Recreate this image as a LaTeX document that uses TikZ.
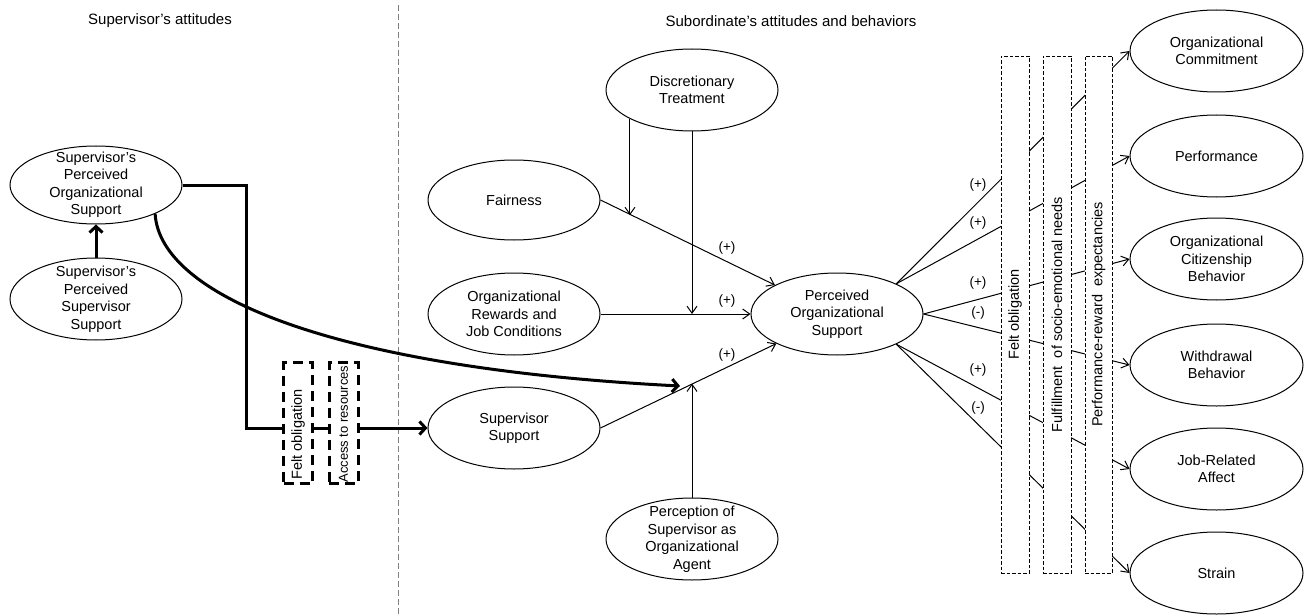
\documentclass[tikz,border=0pt]{standalone}
\usepackage{fontspec}
\setmainfont{Liberation Sans}
\usetikzlibrary{shapes.geometric,arrows.meta,calc}

\begin{document}
\begin{tikzpicture}[x=1pt,y=-1pt,
  every node/.style={font=\fontsize{14.5}{17.5}\selectfont},
  txt/.style={align=center,inner sep=0pt},
  construct/.style={draw,ellipse,line width=1pt,fill=white,inner sep=0pt,
    minimum width=172pt,minimum height=82pt},
  head/.style={font=\fontsize{15}{18}\selectfont,inner sep=0pt},
  sign/.style={font=\fontsize{13.5}{16}\selectfont,inner sep=0pt},
  link/.style={line width=1pt,-{Straight Barb[length=7pt,width=10pt]}},
  heavylink/.style={line width=3pt},
  heavyarrow/.style={line width=3pt,-{Straight Barb[length=6pt,width=13pt]}},
  divider/.style={draw=black!50,line width=0.8pt,dash pattern=on 6pt off 3pt},
  mediator/.style={draw,line width=0.8pt,dash pattern=on 3.5pt off 2pt,fill=white,
    inner sep=0pt,minimum height=517pt},
  channel/.style={draw,line width=3pt,dash pattern=on 10pt off 6pt,
    inner sep=0pt,minimum width=29pt,minimum height=121pt},
  rot/.style={rotate=90,inner sep=0pt}
]
\fill[white] (0,0) rectangle (1306,615);
\useasboundingbox (0,0) rectangle (1306,615);

% column headings and separator
\node[head] (hsup) at (160,21) {Supervisor’s attitudes};
\node[head] (hsub) at (791,21) {Subordinate’s attitudes and behaviors};
\coordinate (divtop) at (398,5);
\coordinate (divbot) at (398,615);
\draw[divider] (divtop) -- (divbot);

% supervisor side
\node[construct,minimum height=78pt,label={[txt]center:{Supervisor’s\\Perceived\\Organizational\\Support}}] (spos) at (96,185) {};
\node[construct,label={[txt]center:{Supervisor’s\\Perceived\\Supervisor\\Support}}] (spss) at (96,299) {};

% subordinate side: antecedents
\node[construct,label={[txt]center:{Discretionary\\Treatment}}] (dt) at (692,90) {};
\node[construct,minimum height=80pt,label={[txt]center:{Fairness}}] (fair) at (514,200) {};
\node[construct,label={[txt]center:{Organizational\\Rewards and\\Job Conditions}}] (rew) at (514,314) {};
\node[construct,label={[txt]center:{Supervisor\\Support}}] (sup) at (514,428) {};
\node[construct,label={[txt]center:{Perception of\\Supervisor as\\Organizational\\Agent}}] (agent) at (692,539) {};
\node[construct,label={[txt]center:{Perceived\\Organizational\\Support}}] (pos) at (837,314) {};

% outcomes
\node[construct,minimum width=173pt,label={[txt]center:{Organizational\\Commitment}}] (oc) at (1216.5,51) {};
\node[construct,minimum width=173pt,label={[txt]center:{Performance}}] (perf) at (1216.5,156) {};
\node[construct,minimum width=173pt,label={[txt]center:{Organizational\\Citizenship\\Behavior}}] (ocb) at (1216.5,259) {};
\node[construct,minimum width=173pt,label={[txt]center:{Withdrawal\\Behavior}}] (wb) at (1216.5,365) {};
\node[construct,minimum width=173pt,label={[txt]center:{Job-Related\\Affect}}] (jr) at (1216.5,469) {};
\node[construct,minimum width=173pt,label={[txt]center:{Strain}}] (strain) at (1216.5,573) {};

% antecedents of perceived organizational support
\draw[link] (fair.east) -- (pos.155);
\draw[link] (rew.east) -- (pos.west);
\draw[link] (sup.east) -- (pos.206);
\coordinate (m1) at ($(fair.east)!0.177!(pos.155)$);
\coordinate (m3) at ($(sup.east)!0.526!(pos.206)$);
\draw[link] (dt.205) -- (dt.205 |- m1);
\draw[link] (dt.south) -- (dt.south |- rew.east);
\draw[link] (agent.north) -- (agent.north |- m3);

\node[sign] (p1) at (727,248) {(+)};
\node[sign] (p2) at (727,301) {(+)};
\node[sign] (p3) at (727,355) {(+)};

% consequences, running behind the mediator boxes
\draw[link] (pos.27) -- (oc.west);
\draw[link] (pos.27) -- (perf.west);
\draw[link] (pos.east) -- (ocb.west);
\draw[link] (pos.east) -- (wb.west);
\draw[link] (pos.333) -- (jr.west);
\draw[link] (pos.333) -- (strain.west);

\node[mediator,minimum width=28pt,label={[rot]center:{Felt obligation}}] (mfo) at (1015,314.5) {};
\node[mediator,minimum width=28pt,label={[rot]center:{Fulfillment~ of socio-emotional needs}}] (mfs) at (1057,314.5) {};
\node[mediator,minimum width=27pt,label={[rot]center:{Performance-reward~ expectancies}}] (mpr) at (1098.5,314.5) {};

\node[sign] (q1) at (978,185) {(+)};
\node[sign] (q2) at (978,223) {(+)};
\node[sign] (q3) at (978,283) {(+)};
\node[sign] (q4) at (978,313) {(-)};
\node[sign] (q5) at (978,370) {(+)};
\node[sign] (q6) at (978,408) {(-)};

% supervisor to subordinate links
\draw[heavyarrow] (spss.north) -- (spos.south);

\node[channel] (fo) at (298,423) {};
\node[channel] (ar) at (343.5,423) {};
\node[rot] (fotext) at (298,434.5) {Felt obligation};
\node[rot,font=\fontsize{13}{16}\selectfont] (artext) at (343.5,424) {Access to resources};

\coordinate (elb) at (246,428);
\draw[heavylink] (spos.east) -| (elb) -- (elb -| fo.west);
\draw[heavylink] (elb -| fo.east) -- (elb -| ar.west);
\draw[heavyarrow] (elb -| ar.east) -- (sup.west);

\coordinate (cend) at (680,386);
\draw[heavyarrow] (spos.334) .. controls (160,295) and (330,368) .. (cend);
\end{tikzpicture}
\end{document}
